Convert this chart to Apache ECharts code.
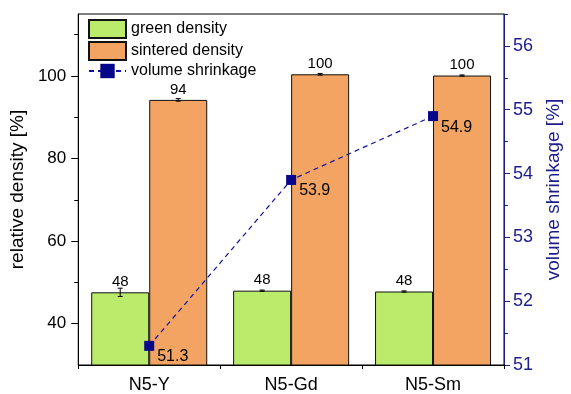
<!DOCTYPE html>
<html>
<head>
<meta charset="utf-8">
<script src="https://cdn.jsdelivr.net/npm/echarts@6/dist/echarts.min.js"></script>
<style>html,body{margin:0;padding:0;background:#fff}#c{width:571px;height:394px}</style>
</head>
<body>
<div id="c"></div>
<script>
const categories = ['N5-Y', 'N5-Gd', 'N5-Sm'];
const greenDensity = [47.6, 48.0, 47.8];
const greenErr = [1.0, 0.15, 0.15];
const sinteredDensity = [94.2, 100.4, 100.1];
const sinteredErr = [0.3, 0.2, 0.15];
const volumeShrinkage = [51.3, 53.9, 54.9];
const leftTicks = [40, 60, 80, 100];
const leftMinorTicks = [50, 70, 90, 110];
const rightTicks = [51, 52, 53, 54, 55, 56];
const rightMinorTicks = [51.5, 52.5, 53.5, 54.5, 55.5, 56.5];

const FONT = 'Liberation Sans, Arial, sans-serif';
const NAVY = '#1c1c8c';
const BARW = 58;

function errSeries(vals, errs, offset) {
  return {
    type: 'custom', yAxisIndex: 0, z: 5, silent: true,
    data: vals.map((v, i) => [i, v, errs[i]]),
    renderItem: function (params, api) {
      const i = api.value(0), v = api.value(1), e = api.value(2);
      const top = api.coord([i, v + e]);
      const bot = api.coord([i, v - e]);
      const x = top[0] + offset;
      const cw = 2.5;
      return {
        type: 'group',
        children: [
          { type: 'line', shape: { x1: x, y1: top[1], x2: x, y2: bot[1] }, style: { stroke: '#000', lineWidth: 1 } },
          { type: 'line', shape: { x1: x - cw, y1: top[1], x2: x + cw, y2: top[1] }, style: { stroke: '#000', lineWidth: 1 } },
          { type: 'line', shape: { x1: x - cw, y1: bot[1], x2: x + cw, y2: bot[1] }, style: { stroke: '#000', lineWidth: 1 } }
        ]
      };
    }
  };
}

const chart = echarts.init(document.getElementById('c'), null, { renderer: 'canvas' });
chart.setOption({
  animation: false,
  textStyle: { fontFamily: FONT },
  grid: { left: 78, right: 56, top: 14, bottom: 28, show: true, borderColor: '#000', borderWidth: 1, backgroundColor: 'transparent' },
  legend: {
    orient: 'vertical', left: 88, top: 19, padding: 0, itemGap: 2,
    itemWidth: 37, itemHeight: 18,
    textStyle: { fontSize: 16, color: '#000', fontFamily: FONT },
    data: [
      { name: 'green density', icon: 'rect' },
      { name: 'sintered density', icon: 'rect' },
      { name: 'volume shrinkage' }
    ]
  },
  xAxis: [
    {
      type: 'category', data: categories, position: 'bottom',
      axisLine: { lineStyle: { color: '#000', width: 1 } },
      axisTick: { alignWithLabel: true, length: 7, lineStyle: { color: '#000' } },
      axisLabel: { fontSize: 18, color: '#000', margin: 11, fontFamily: FONT }
    },
    {
      type: 'category', data: categories, position: 'bottom', gridIndex: 0,
      axisLine: { show: false },
      axisTick: { show: true, length: 4, lineStyle: { color: '#000' } },
      axisLabel: { show: false }
    }
  ],
  yAxis: [
    {
      type: 'value', min: 30, max: 115, position: 'left',
      name: 'relative density [%]', nameLocation: 'middle', nameGap: 45,
      nameTextStyle: { fontSize: 19, color: '#000', fontFamily: FONT },
      axisLine: { show: true, lineStyle: { color: '#000' } },
      axisTick: { show: true, length: 7, customValues: leftTicks, lineStyle: { color: '#000' } },
      axisLabel: { fontSize: 17, color: '#000', margin: 12, customValues: leftTicks, fontFamily: FONT },
      splitLine: { show: false }
    },
    {
      type: 'value', min: 51, max: 56.5, position: 'right',
      name: 'volume shrinkage [%]', nameLocation: 'middle', nameGap: 40,
      nameTextStyle: { fontSize: 19, color: NAVY, fontFamily: FONT },
      axisLine: { show: true, lineStyle: { color: NAVY } },
      axisTick: { show: true, length: 6, customValues: rightTicks, lineStyle: { color: NAVY } },
      axisLabel: { fontSize: 18, color: NAVY, margin: 9, customValues: rightTicks, fontFamily: FONT },
      splitLine: { show: false }
    },
    {
      type: 'value', min: 30, max: 115, position: 'left',
      axisLine: { show: false },
      axisTick: { show: true, length: 4, customValues: leftMinorTicks, lineStyle: { color: '#000' } },
      axisLabel: { show: false }, splitLine: { show: false }
    },
    {
      type: 'value', min: 51, max: 56.5, position: 'right',
      axisLine: { show: false },
      axisTick: { show: true, length: 4, customValues: rightMinorTicks, lineStyle: { color: NAVY } },
      axisLabel: { show: false }, splitLine: { show: false }
    }
  ],
  series: [
    {
      name: 'green density', type: 'bar', yAxisIndex: 0, data: greenDensity,
      barWidth: BARW, barGap: '0%',
      itemStyle: { color: '#BBEB6B', borderColor: '#111', borderWidth: 1 },
      label: { show: true, position: 'top', distance: 3, fontSize: 15, color: '#000', fontFamily: FONT,
        formatter: p => Math.round(p.value) }
    },
    {
      name: 'sintered density', type: 'bar', yAxisIndex: 0, data: sinteredDensity,
      barWidth: BARW, barGap: '0%',
      itemStyle: { color: '#F4A462', borderColor: '#111', borderWidth: 1 },
      label: { show: true, position: 'top', distance: 3, fontSize: 15, color: '#000', fontFamily: FONT,
        formatter: p => Math.round(p.value) }
    },
    errSeries(greenDensity, greenErr, -BARW / 2),
    errSeries(sinteredDensity, sinteredErr, BARW / 2),
    {
      name: 'volume shrinkage', type: 'line', yAxisIndex: 1, data: volumeShrinkage, z: 10,
      symbol: 'rect', symbolSize: 10,
      lineStyle: { color: '#1010a0', width: 1.2, type: [5, 4] },
      itemStyle: { color: '#06068a' },
      label: { show: true, position: 'right', distance: 5, offset: [-2, 11], fontSize: 16, color: '#000', fontFamily: FONT,
        formatter: p => p.value.toFixed(1) }
    }
  ]
});
</script>
</body>
</html>
